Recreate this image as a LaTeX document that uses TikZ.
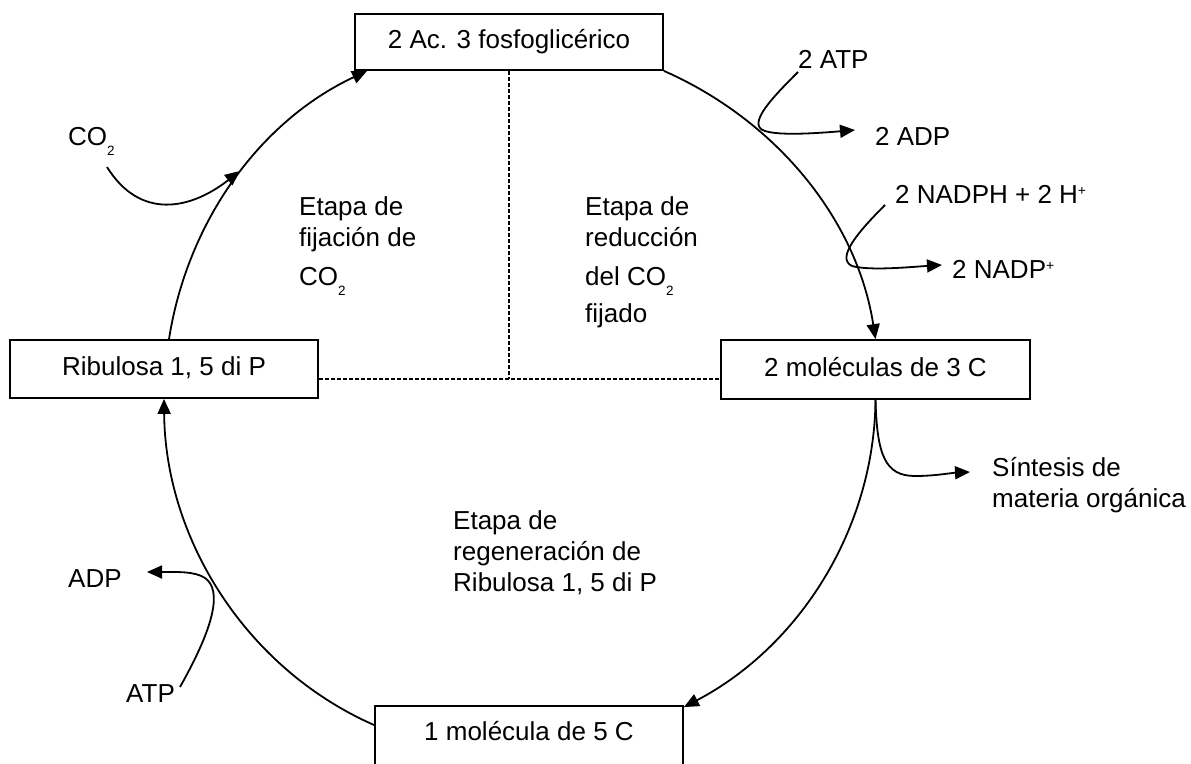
\documentclass[tikz,border=0pt]{standalone}
\usepackage{fontspec}
\setmainfont{Liberation Sans}
\usetikzlibrary{arrows.meta,calc}
\newcommand{\sbtwo}{\raisebox{-10pt}{\fontsize{13.5}{13.5}\selectfont 2}}
\newcommand{\spplus}{\raisebox{8pt}{\fontsize{14}{14}\selectfont +}}
\begin{document}
\begin{tikzpicture}[x=1pt,y=1pt,
  box/.style={draw, line width=1.8pt, minimum height=58pt, minimum width=308pt, inner sep=0pt,
    text height=19pt, text depth=5.5pt, font=\fontsize{26}{31}\selectfont},
  lbl/.style={inner sep=0pt, anchor=base west, font=\fontsize{26}{31}\selectfont},
  conn/.style={line width=1.8pt},
  tip/.style={-{Triangle[length=15pt,width=13pt]}},
  dsh/.style={dash pattern=on 4pt off 2pt, line width=1.4pt}]
\useasboundingbox (0,0) rectangle (1191,-763);
% boxes
\node[box, minimum height=56pt] (top) at (509,-42) {2 Ac. 3 fosfoglicérico};
\node[box] (rib) at (164,-369) {Ribulosa 1, 5 di P};
\node[box, minimum width=309pt, minimum height=59pt] (mol3) at (875.5,-369.5) {2 moléculas de 3 C};
\node[box, minimum height=62pt, text depth=12pt] (mol5) at (529,-737) {1 molécula de 5 C};
% stage texts
\node[lbl] (f1) at (299,-215) {Etapa de};
\node[lbl] (f2) at (299,-246) {fijación de};
\node[lbl] (f3) at (299,-285) {CO\sbtwo};
\node[lbl] (r1) at (585,-215) {Etapa de};
\node[lbl] (r2) at (585,-246) {reducción};
\node[lbl] (r3) at (585,-285) {del CO\sbtwo};
\node[lbl] (r4) at (585,-322) {fijado};
\node[lbl] (g1) at (453,-529) {Etapa de};
\node[lbl] (g2) at (453,-560) {regeneración de};
\node[lbl] (g3) at (453,-591) {Ribulosa 1, 5 di P};
% side labels
\node[lbl] (co2) at (68,-145) {CO\sbtwo};
\node[lbl] (atp1) at (798,-68) {2 ATP};
\node[lbl] (adp1) at (875,-145) {2 ADP};
\node[lbl] (nadph) at (895,-203) {2 NADPH + 2 H\spplus};
\node[lbl] (nadp) at (952,-278) {2 NADP\spplus};
\node[lbl] (sin1) at (992,-476) {Síntesis de};
\node[lbl] (sin2) at (992,-507) {materia orgánica};
\node[lbl] (adp2) at (68,-587) {ADP};
\node[lbl] (atp2) at (126,-702) {ATP};
% dashed dividers
\coordinate (junc) at (509,-379);
\draw[dsh] (top.south) -- (junc);
\draw[dsh] ($(rib.east)+(0,-10)$) -- ($(mol3.west)+(0,-9.5)$);
% cycle arcs
\draw[conn,tip] (top.south east) to[out=-23.75,in=98.8,looseness=0.91] (mol3.north);
\draw[conn,tip] (mol3.south) to[out=-90.6,in=27.7,looseness=0.92] ($(mol5.north east)+(0,-2)$);
\draw[conn,tip] ($(mol5.west)+(0,12)$) to[out=156.3,in=270.5,looseness=0.925] (rib.south);
\draw[conn,tip] ($(rib.north)+(5,0)$) to[out=81.1,in=205.1,looseness=0.91] ($(top.south west)+(13,0)$);
% side arrows
\coordinate (co2s) at (107,-167);
\coordinate (co2e) at (240,-171);
\draw[conn,tip] (co2s) .. controls (140,-220) and (190,-210) .. (co2e);
\coordinate (atps) at (798,-72);
\coordinate (adpe) at (855,-130);
\draw[conn,tip] (atps) .. controls (775,-95) and (745,-125) .. (765,-131) .. controls (780,-136) and (820,-133) .. (adpe);
\coordinate (nds) at (885,-205);
\coordinate (nde) at (942,-265);
\draw[conn,tip] (nds) .. controls (860,-230) and (835,-258) .. (852,-266) .. controls (870,-271) and (910,-267) .. (nde);
\coordinate (sine) at (970,-472);
\draw[conn,tip] (mol3.south) .. controls (877,-455) and (885,-476) .. (915,-476) .. controls (935,-476) and (950,-473) .. (sine);
\coordinate (atp2s) at (180,-687);
\coordinate (adp2e) at (147,-572);
\draw[conn,tip] (atp2s) .. controls (215,-625) and (222,-590) .. (205,-578) .. controls (195,-571) and (175,-572) .. (adp2e);
\end{tikzpicture}
\end{document}
